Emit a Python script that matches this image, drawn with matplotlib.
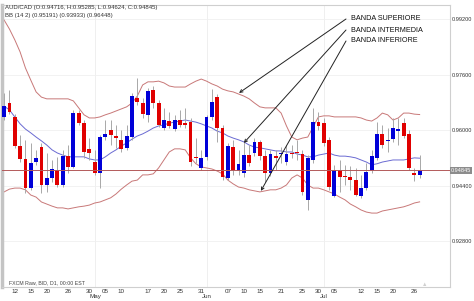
import matplotlib
matplotlib.use("Agg")
import matplotlib.pyplot as plt
import numpy as np

plt.rcParams["font.family"] = ["Liberation Sans", "DejaVu Sans"]

# daily AUD/CAD candles
opens = [0.9638, 0.9678, 0.9638, 0.9554, 0.9517, 0.9433, 0.9508, 0.9551, 0.9442, 0.9462,
         0.9485, 0.9442, 0.9525, 0.9494, 0.9649, 0.9620, 0.9546, 0.9508, 0.9477, 0.9580,
         0.9600, 0.9583, 0.9572, 0.9549, 0.9580, 0.9693, 0.9678, 0.9644, 0.9716, 0.9678,
         0.9606, 0.9626, 0.9603, 0.9629, 0.9620, 0.9623, 0.9523, 0.9491, 0.9523, 0.9638,
         0.9695, 0.9606, 0.9462, 0.9551, 0.9482, 0.9477, 0.9528, 0.9534, 0.9566, 0.9525,
         0.9477, 0.9523, 0.9531, 0.9508, 0.9534, 0.9534, 0.9531, 0.9399, 0.9514, 0.9623,
         0.9620, 0.9572, 0.9410, 0.9485, 0.9468, 0.9465, 0.9456, 0.9410, 0.9433, 0.9482,
         0.9520, 0.9589, 0.9569, 0.9574, 0.9597, 0.9620, 0.9589, 0.9477, 0.94716]
highs = [0.9707, 0.9716, 0.9646, 0.9586, 0.9572, 0.9563, 0.9543, 0.9563, 0.9534, 0.9514,
         0.9523, 0.9543, 0.9557, 0.9658, 0.9658, 0.9629, 0.9577, 0.9543, 0.9586, 0.9629,
         0.9629, 0.9615, 0.9600, 0.9615, 0.9707, 0.9750, 0.9693, 0.9721, 0.9727, 0.9687,
         0.9664, 0.9652, 0.9644, 0.9658, 0.9664, 0.9635, 0.9577, 0.9543, 0.9644, 0.9718,
         0.9704, 0.9615, 0.9563, 0.9572, 0.9543, 0.9566, 0.9557, 0.9577, 0.9572, 0.9543,
         0.9543, 0.9543, 0.9551, 0.9557, 0.9557, 0.9572, 0.9543, 0.9528, 0.9664, 0.9652,
         0.9635, 0.9580, 0.9500, 0.9514, 0.9500, 0.9497, 0.9491, 0.9471, 0.9505, 0.9543,
         0.9623, 0.9615, 0.9606, 0.9635, 0.9635, 0.9635, 0.9600, 0.9491, 0.95285]
lows = [0.9629, 0.9646, 0.9549, 0.9508, 0.9419, 0.9428, 0.9500, 0.9419, 0.9422, 0.9451,
        0.9436, 0.9436, 0.9477, 0.9491, 0.9615, 0.9520, 0.9514, 0.9471, 0.9433, 0.9572,
        0.9557, 0.9549, 0.9537, 0.9543, 0.9572, 0.9672, 0.9635, 0.9623, 0.9664, 0.9609,
        0.9600, 0.9606, 0.9597, 0.9609, 0.9606, 0.9497, 0.9505, 0.9485, 0.9514, 0.9629,
        0.9566, 0.9456, 0.9456, 0.9471, 0.9471, 0.9465, 0.9497, 0.9525, 0.9514, 0.9451,
        0.9468, 0.9485, 0.9505, 0.9500, 0.9520, 0.9514, 0.9413, 0.9370, 0.9505, 0.9600,
        0.9554, 0.9428, 0.9407, 0.9422, 0.9442, 0.9428, 0.9410, 0.9405, 0.9428, 0.9477,
        0.9514, 0.9549, 0.9537, 0.9566, 0.9557, 0.9577, 0.9485, 0.9453, 0.94624]
closes = [0.9669, 0.9652, 0.9554, 0.9517, 0.9433, 0.9505, 0.9520, 0.9442, 0.9462, 0.9488,
          0.9442, 0.9525, 0.9494, 0.9649, 0.9620, 0.9537, 0.9534, 0.9477, 0.9580, 0.9589,
          0.9586, 0.9577, 0.9546, 0.9583, 0.9698, 0.9681, 0.9646, 0.9713, 0.9678, 0.9615,
          0.9629, 0.9612, 0.9629, 0.9615, 0.9615, 0.9508, 0.9520, 0.9520, 0.9638, 0.9681,
          0.9606, 0.9465, 0.9554, 0.9485, 0.9503, 0.9528, 0.9505, 0.9566, 0.9525, 0.9477,
          0.9531, 0.9521, 0.9532, 0.9531, 0.9531, 0.9533, 0.9422, 0.9520, 0.9623, 0.9612,
          0.9563, 0.9436, 0.9485, 0.9465, 0.9465, 0.9456, 0.9413, 0.9433, 0.9479, 0.9525,
          0.9589, 0.9557, 0.9572, 0.9606, 0.9603, 0.9583, 0.9491, 0.9471, 0.94845]

# Bollinger bands (14, 2) as drawn
bb_upper = [0.9917, 0.9891, 0.9860, 0.9825, 0.9779, 0.9744, 0.9710, 0.9695, 0.9690, 0.9690,
            0.9690, 0.9690, 0.9690, 0.9684, 0.9664, 0.9644, 0.9635, 0.9635, 0.9638, 0.9644,
            0.9649, 0.9655, 0.9661, 0.9667, 0.9678, 0.9698, 0.9730, 0.9739, 0.9739, 0.9741,
            0.9736, 0.9727, 0.9724, 0.9724, 0.9724, 0.9733, 0.9741, 0.9747, 0.9741, 0.9733,
            0.9727, 0.9718, 0.9713, 0.9710, 0.9704, 0.9698, 0.9690, 0.9678, 0.9667, 0.9664,
            0.9664, 0.9664, 0.9649, 0.9612, 0.9580, 0.9572, 0.9577, 0.9580, 0.9609, 0.9638,
            0.9641, 0.9641, 0.9638, 0.9638, 0.9638, 0.9638, 0.9638, 0.9635, 0.9629, 0.9626,
            0.9635, 0.9649, 0.9644, 0.9629, 0.9635, 0.9649, 0.9649, 0.9646, 0.96448]
bb_middle = [0.9669, 0.9658, 0.9638, 0.9618, 0.9603, 0.9592, 0.9580, 0.9569, 0.9557, 0.9543,
             0.9534, 0.9528, 0.9523, 0.9523, 0.9523, 0.9523, 0.9517, 0.9514, 0.9514, 0.9523,
             0.9534, 0.9543, 0.9554, 0.9563, 0.9574, 0.9583, 0.9589, 0.9597, 0.9606, 0.9612,
             0.9615, 0.9620, 0.9623, 0.9626, 0.9629, 0.9626, 0.9623, 0.9618, 0.9612, 0.9606,
             0.9597, 0.9592, 0.9583, 0.9577, 0.9572, 0.9566, 0.9557, 0.9551, 0.9549, 0.9546,
             0.9543, 0.9540, 0.9540, 0.9537, 0.9537, 0.9531, 0.9528, 0.9523, 0.9523, 0.9528,
             0.9531, 0.9534, 0.9528, 0.9525, 0.9525, 0.9523, 0.9520, 0.9514, 0.9508, 0.9500,
             0.9503, 0.9508, 0.9511, 0.9514, 0.9514, 0.9514, 0.9517, 0.9520, 0.95191]
bb_lower = [0.9422, 0.9430, 0.9433, 0.9433, 0.9428, 0.9413, 0.9407, 0.9393, 0.9387, 0.9381,
            0.9376, 0.9376, 0.9373, 0.9376, 0.9379, 0.9381, 0.9384, 0.9390, 0.9393, 0.9399,
            0.9405, 0.9416, 0.9430, 0.9442, 0.9453, 0.9456, 0.9471, 0.9471, 0.9474, 0.9491,
            0.9514, 0.9537, 0.9546, 0.9546, 0.9543, 0.9520, 0.9503, 0.9494, 0.9491, 0.9488,
            0.9482, 0.9474, 0.9456, 0.9445, 0.9436, 0.9433, 0.9428, 0.9425, 0.9422, 0.9425,
            0.9428, 0.9428, 0.9433, 0.9442, 0.9462, 0.9471, 0.9462, 0.9442, 0.9433, 0.9433,
            0.9428, 0.9422, 0.9416, 0.9407, 0.9399, 0.9387, 0.9379, 0.9370, 0.9364, 0.9361,
            0.9361, 0.9367, 0.9370, 0.9373, 0.9376, 0.9379, 0.9384, 0.9390, 0.93933]

last_price = 0.94845
y_ticks = [0.928, 0.944, 0.960, 0.976, 0.992]
x_tick_pos = [2, 5, 8, 12, 16, 19, 22, 27, 30, 33, 37, 42, 45, 48, 52, 56, 59, 62, 67, 70, 73, 77]
x_tick_labels = ["12", "15", "20", "26", "30", "05", "10", "17", "20", "25", "31",
                 "07", "10", "15", "21", "25", "30", "05", "12", "15", "20", "26"]
month_pos = [17.1, 38.1, 60.0]
month_names = ["May", "Jun", "Jul"]

RED = "#e00000"
BLUE = "#0000d8"

fig = plt.figure(figsize=(4.74, 3.01), dpi=100)
ax = fig.add_axes([2 / 474, 14 / 301, 448 / 474, 282 / 301])

o = np.array(opens)
h = np.array(highs)
l = np.array(lows)
c = np.array(closes)
x = np.arange(len(o))

# grid
for mp in month_pos:
    ax.axvline(mp, color="#ececec", lw=0.6, zorder=0)
for yt in y_ticks:
    ax.axhline(yt, color="#f0f0f0", lw=0.6, zorder=0)

# bands
ax.plot(x, bb_upper, color="#c87878", lw=0.7, zorder=2)
ax.plot(x, bb_lower, color="#c87878", lw=0.7, zorder=2)
ax.plot(x, bb_middle, color="#6a6ad2", lw=0.7, zorder=2)

# candles
ax.vlines(x, l, h, color="#a8a8a8", lw=0.7, zorder=3)
up = c >= o
colors = np.where(up, BLUE, RED)
bottoms = np.minimum(o, c)
heights = np.maximum(np.abs(c - o), 0.0003)
ax.bar(x, heights, bottom=bottoms, width=0.72, color=colors, edgecolor="none", zorder=4)

# last price line
ax.axhline(last_price, color="#b35a5a", lw=0.7, zorder=5)

ax.set_xlim(-0.4, 83.7)
ax.set_ylim(0.91481, 0.99603)

ax.yaxis.tick_right()
ax.set_yticks(y_ticks)
ax.set_yticklabels([f"{v:.5f}" for v in y_ticks])
ax.set_xticks(x_tick_pos)
ax.set_xticklabels(x_tick_labels)
ax.tick_params(axis="both", length=0, labelsize=4.5, labelcolor="#333333")
ax.tick_params(axis="x", pad=1.5)
ax.tick_params(axis="y", pad=1.2, labelsize=4.1)
for sp in ax.spines.values():
    sp.set_color("#cfcfcf")
    sp.set_linewidth(0.8)
ax.spines["left"].set_linewidth(2.5)
ax.spines["left"].set_color("#c4c4c4")

for mp, name in zip(month_pos, month_names):
    ax.text(mp, -0.034, name, transform=ax.get_xaxis_transform(), ha="center",
            va="center", fontsize=4.5, color="#333333", clip_on=False)

# price tag on the right
ax.text(1.002, last_price, f"{last_price:.5f}", transform=ax.get_yaxis_transform(),
        ha="left", va="center", fontsize=4.0, color="white", clip_on=False,
        bbox=dict(boxstyle="square,pad=0.2", fc="#8c8c8c", ec="none"))

# header lines
fig.text(5 / 474, 1 - 7 / 301, "AUD/CAD (O:0.94716, H:0.95285, L:0.94624, C:0.94845)",
         fontsize=4.3, color="#333333", va="center")
fig.text(5 / 474, 1 - 15 / 301, "BB (14 2) (0.95191) (0.93933) (0.96448)",
         fontsize=4.3, color="#333333", va="center")
fig.text(9 / 474, 18 / 301, "FXCM Raw, BID, D1, 00:00 EST",
         fontsize=3.8, color="#444444", va="center")
fig.text(425 / 474, 17 / 301, "\u25b2", fontsize=4, color="#d0d0d0", ha="center", va="center")

# band annotations
labels = ["BANDA SUPERIORE", "BANDA INTERMEDIA", "BANDA INFERIORE"]
label_y = [282, 271, 260]
targets = [(44.1, 0.9707), (45.0, 0.9563), (48.2, 0.9425)]
for lab, ly, tgt in zip(labels, label_y, targets):
    fig.text(351 / 474, ly / 301, lab, fontsize=5.2, color="#111111", va="center")
    ax.annotate("", xy=tgt, xycoords="data", xytext=(346, ly), textcoords="figure pixels",
                arrowprops=dict(arrowstyle="->", color="#222222", lw=0.7,
                                shrinkA=0, shrinkB=0, mutation_scale=5),
                zorder=6)

fig.savefig("out.png", dpi=100)
